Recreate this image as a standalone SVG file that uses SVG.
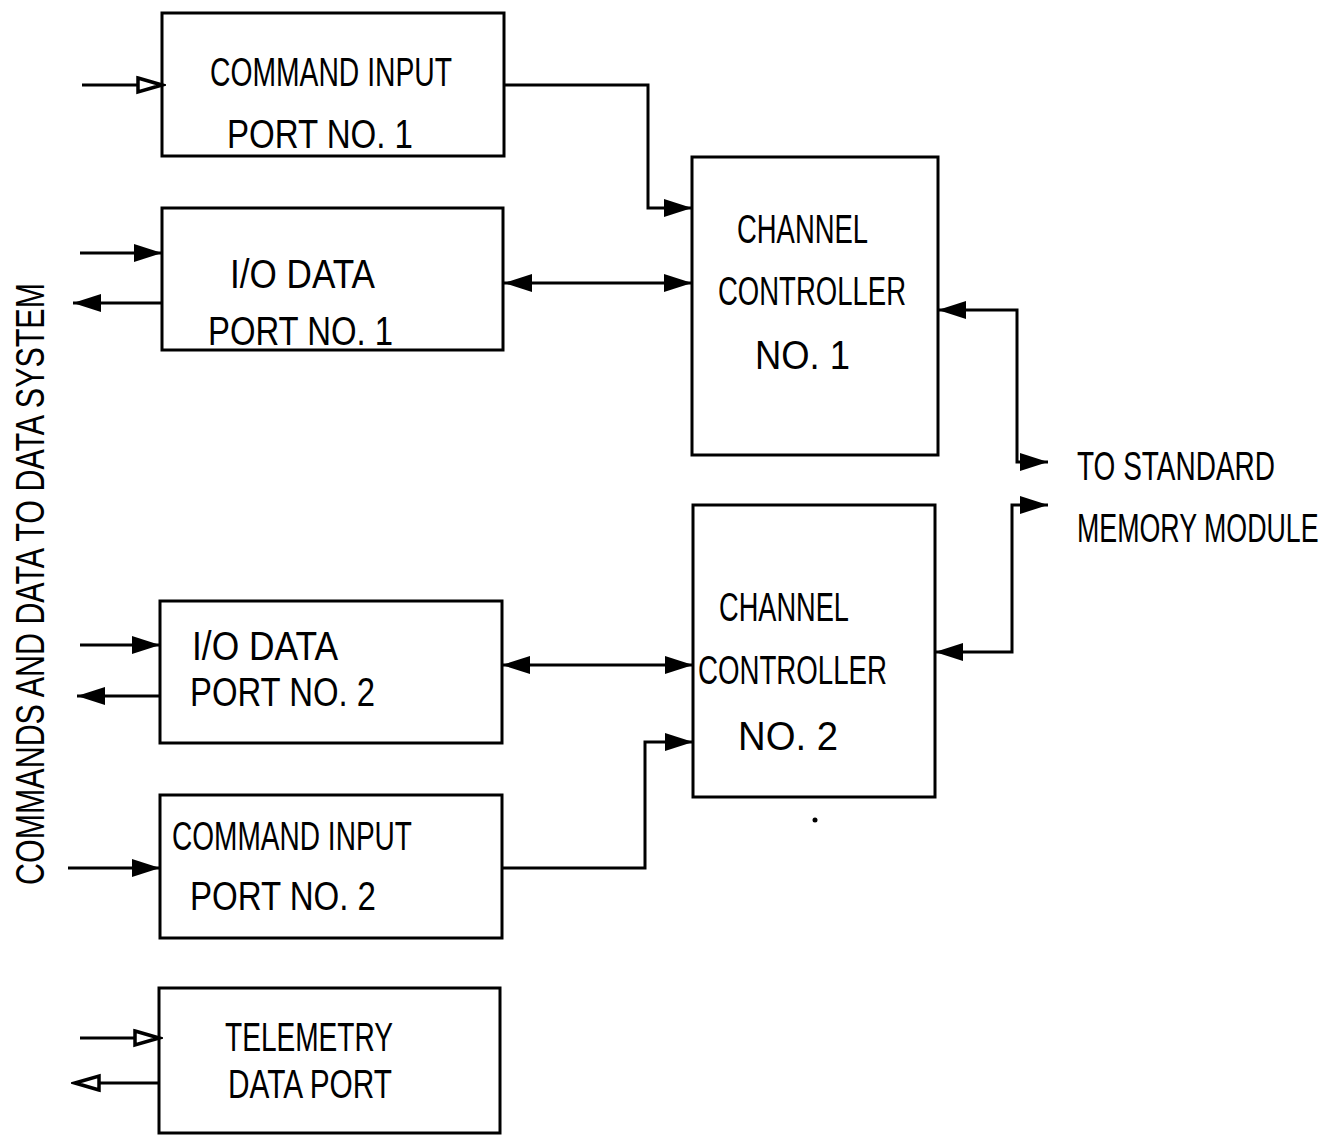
<svg xmlns="http://www.w3.org/2000/svg" width="1330" height="1139" viewBox="0 0 1330 1139">
<defs>
<style>
.box{fill:#fff;stroke:#000;stroke-width:3}
.ln{fill:none;stroke:#000;stroke-width:3}
.t{font-family:"Liberation Sans",Arial,sans-serif;font-size:40px;fill:#000}
</style>
<marker id="af" markerUnits="userSpaceOnUse" markerWidth="30" markerHeight="20" refX="28" refY="10" orient="auto-start-reverse" viewBox="0 0 30 20">
<path d="M0,1 L28,10 L0,19 z" fill="#000"/>
</marker>
<marker id="ao" markerUnits="userSpaceOnUse" markerWidth="30" markerHeight="20" refX="26" refY="10" orient="auto-start-reverse" viewBox="0 0 30 20">
<path d="M2,3 L26,10 L2,17 z" fill="#fff" stroke="#000" stroke-width="3.5"/>
</marker>
</defs>
<rect width="1330" height="1139" fill="#fff"/>

<g id="cip1">
<rect class="box" x="162" y="13" width="342" height="143"/>
<text class="t" x="210" y="86" textLength="242" lengthAdjust="spacingAndGlyphs">COMMAND INPUT</text>
<text class="t" x="227" y="148" textLength="186" lengthAdjust="spacingAndGlyphs">PORT NO. 1</text>
</g>
<g id="io1">
<rect class="box" x="162" y="208" width="341" height="142"/>
<text class="t" x="230" y="288" textLength="145" lengthAdjust="spacingAndGlyphs">I/O DATA</text>
<text class="t" x="208" y="345" textLength="185" lengthAdjust="spacingAndGlyphs">PORT NO. 1</text>
</g>
<g id="cc1">
<rect class="box" x="692" y="157" width="246" height="298"/>
<text class="t" x="737" y="243" textLength="131" lengthAdjust="spacingAndGlyphs">CHANNEL</text>
<text class="t" x="718" y="305" textLength="188" lengthAdjust="spacingAndGlyphs">CONTROLLER</text>
<text class="t" x="755" y="369" textLength="95" lengthAdjust="spacingAndGlyphs">NO. 1</text>
</g>
<g id="io2">
<rect class="box" x="160" y="601" width="342" height="142"/>
<text class="t" x="192" y="660" textLength="146" lengthAdjust="spacingAndGlyphs">I/O DATA</text>
<text class="t" x="190" y="706" textLength="185" lengthAdjust="spacingAndGlyphs">PORT NO. 2</text>
</g>
<g id="cc2">
<rect class="box" x="693" y="505" width="242" height="292"/>
<text class="t" x="719" y="621" textLength="130" lengthAdjust="spacingAndGlyphs">CHANNEL</text>
<text class="t" x="698" y="684" textLength="189" lengthAdjust="spacingAndGlyphs">CONTROLLER</text>
<text class="t" x="738" y="750" textLength="100" lengthAdjust="spacingAndGlyphs">NO. 2</text>
</g>
<g id="cip2">
<rect class="box" x="160" y="795" width="342" height="143"/>
<text class="t" x="172" y="850" textLength="240" lengthAdjust="spacingAndGlyphs">COMMAND INPUT</text>
<text class="t" x="190" y="910" textLength="186" lengthAdjust="spacingAndGlyphs">PORT NO. 2</text>
</g>
<g id="tlm">
<rect class="box" x="159" y="988" width="341" height="145"/>
<text class="t" x="225" y="1051" textLength="168" lengthAdjust="spacingAndGlyphs">TELEMETRY</text>
<text class="t" x="228" y="1098" textLength="164" lengthAdjust="spacingAndGlyphs">DATA PORT</text>
</g>
<g id="labels">
<text class="t" transform="translate(44,885) rotate(-90)" textLength="602" lengthAdjust="spacingAndGlyphs">COMMANDS AND DATA TO DATA SYSTEM</text>
<text class="t" transform="translate(1077,480) scale(0.7,1)">TO STANDARD</text>
<text class="t" transform="translate(1077,542) scale(0.67,1)">MEMORY MODULE</text>
<circle cx="815" cy="820" r="2.5" fill="#000"/>
</g>

<g id="connectors">
<path class="ln" d="M82,85 L162,85" marker-end="url(#ao)"/>
<path class="ln" d="M80,253 L162,253" marker-end="url(#af)"/>
<path class="ln" d="M162,303 L73,303" marker-end="url(#af)"/>
<path class="ln" d="M504,85 L648,85 L648,208 L692,208" marker-end="url(#af)"/>
<path class="ln" d="M504,283 L692,283" marker-start="url(#af)" marker-end="url(#af)"/>
<path class="ln" d="M1048,462 L1017,462 L1017,310 L938,310" marker-start="url(#af)" marker-end="url(#af)"/>
<path class="ln" d="M1048,505 L1012,505 L1012,652 L935,652" marker-start="url(#af)" marker-end="url(#af)"/>
<path class="ln" d="M80,645 L160,645" marker-end="url(#af)"/>
<path class="ln" d="M160,696 L77,696" marker-end="url(#af)"/>
<path class="ln" d="M502,665 L693,665" marker-start="url(#af)" marker-end="url(#af)"/>
<path class="ln" d="M68,868 L160,868" marker-end="url(#af)"/>
<path class="ln" d="M502,868 L645,868 L645,742 L693,742" marker-end="url(#af)"/>
<path class="ln" d="M80,1038 L159,1038" marker-end="url(#ao)"/>
<path class="ln" d="M159,1083 L75,1083" marker-end="url(#ao)"/>
</g>
</svg>
